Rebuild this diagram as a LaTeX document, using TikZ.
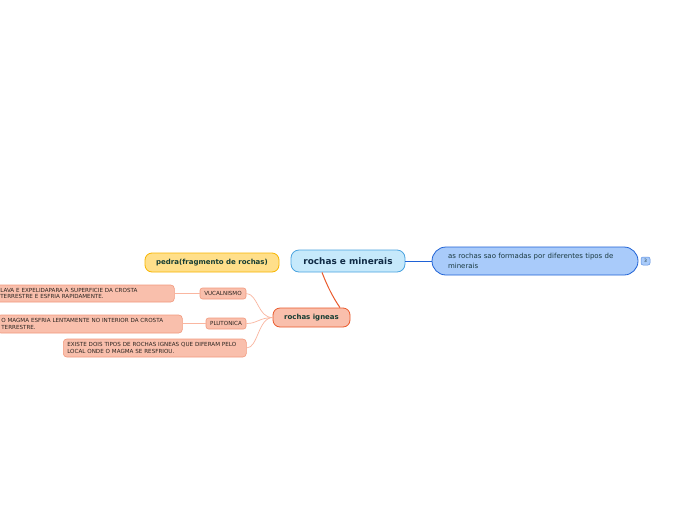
\documentclass[tikz,border=0pt]{standalone}
\usepackage{fontspec}
\setmainfont{DejaVu Sans}
\begin{document}
\begin{tikzpicture}[x=1pt,y=-1pt,
  base/.style={rounded corners=#1, line width=0.8pt, inner sep=0pt, align=center},
  base/.default=3pt,
  centralbox/.style={base=8pt, draw=c1border, fill=c1fill, text=c1text, minimum width=114pt, minimum height=22pt, font=\fontsize{8.9}{10}\selectfont\bfseries},
  rightbox/.style={base=14pt, draw=rbborder, fill=rbfill, text=ttext, minimum height=28pt, text width=174pt, inner xsep=16pt, align=left, font=\fontsize{7}{9.8}\selectfont},
  yellowbox/.style={base=7pt, draw=ybborder, fill=ybfill, text=gtext, minimum width=134pt, minimum height=19pt, font=\fontsize{7}{8}\selectfont\bfseries},
  igneabox/.style={base=7pt, draw=igborder, fill=igfill, text=gtext, minimum width=77pt, minimum height=19pt, font=\fontsize{7}{8}\selectfont\bfseries},
  smallbox/.style={base=2.5pt, draw=sbborder, fill=igfill, text=stext, line width=0.6pt, font=\fontsize{5.6}{6.6}\selectfont},
  longbox/.style={base=3.5pt, draw=sbborder, fill=igfill, text=stext, line width=0.6pt, align=left, inner xsep=4pt, font=\fontsize{5.6}{6.8}\selectfont},
  badge/.style={base=2pt, draw=bdborder, fill=rbfill, text=ttext, minimum width=9pt, minimum height=8pt, line width=0.5pt, font=\fontsize{4.5}{4.5}\selectfont},
  subline/.style={draw=sbline, line width=0.7pt}
]
\definecolor{c1border}{HTML}{4AA3DF}
\definecolor{c1fill}{HTML}{C6E9FB}
\definecolor{c1text}{HTML}{0F2A45}
\definecolor{rbborder}{HTML}{1F62D6}
\definecolor{rbfill}{HTML}{A9CBFA}
\definecolor{bdborder}{HTML}{5A8FE0}
\definecolor{ttext}{HTML}{1B3A40}
\definecolor{ybborder}{HTML}{F7B500}
\definecolor{ybfill}{HTML}{FFDF8A}
\definecolor{gtext}{HTML}{163D33}
\definecolor{igborder}{HTML}{EA5A2C}
\definecolor{igfill}{HTML}{F9BFAC}
\definecolor{sbborder}{HTML}{F29A7E}
\definecolor{sbline}{HTML}{FAB6A0}
\definecolor{stext}{HTML}{2A2420}

\useasboundingbox[fill=white] (0,0) rectangle (696,520);

\node[centralbox] (central) at (348,261) {rochas e minerais};
\node[rightbox] (right) at (535,261) {as rochas sao formadas por diferentes tipos de\\minerais};
\node[badge] (badge) at (645.5,261) {3};
\node[yellowbox] (pedra) at (212,262.5) {pedra(fragmento de rochas)};
\node[igneabox] (ignea) at (311.5,317.5) {rochas igneas};
\node[smallbox, minimum width=46pt, minimum height=11pt] (vuc) at (223,293.5) {VUCALNISMO};
\node[smallbox, minimum width=40pt, minimum height=11pt] (plu) at (226,323.5) {PLUTONICA};
\node[longbox, text width=170pt, minimum height=17pt, anchor=west] (lava) at (-4,293.5) {LAVA E EXPELIDAPARA A SUPERFICIE DA CROSTA\\TERRESTRE E ESFRIA RAPIDAMENTE.};
\node[longbox, text width=177pt, minimum height=18pt, anchor=west] (magma) at (-3,324) {O MAGMA ESFRIA LENTAMENTE NO INTERIOR DA CROSTA\\TERRESTRE.};
\node[longbox, text width=175pt, minimum height=18pt, anchor=west] (dois) at (63,348) {EXISTE DOIS TIPOS DE ROCHAS IGNEAS QUE DIFERAM PELO\\LOCAL ONDE O MAGMA SE RESFRIOU.};

\draw[rbborder, line width=1pt] (central.east) -- (right.west);
\draw[igborder, line width=1pt] (322,272.4) .. controls (328,288) and (334,299) .. (340,307.6);
\coordinate (ig) at (ignea.west);
\draw[subline] (ig) .. controls (258,318) and (258,294) .. (vuc.east);
\draw[subline] (ig) .. controls (258,318) and (258,323.5) .. (plu.east);
\draw[subline] (ig) .. controls (258,318) and (258,348) .. (dois.east);
\draw[subline] (vuc.west) -- (lava.east |- vuc.west);
\draw[subline] (plu.west) -- (magma.east |- plu.west);
\end{tikzpicture}
\end{document}
